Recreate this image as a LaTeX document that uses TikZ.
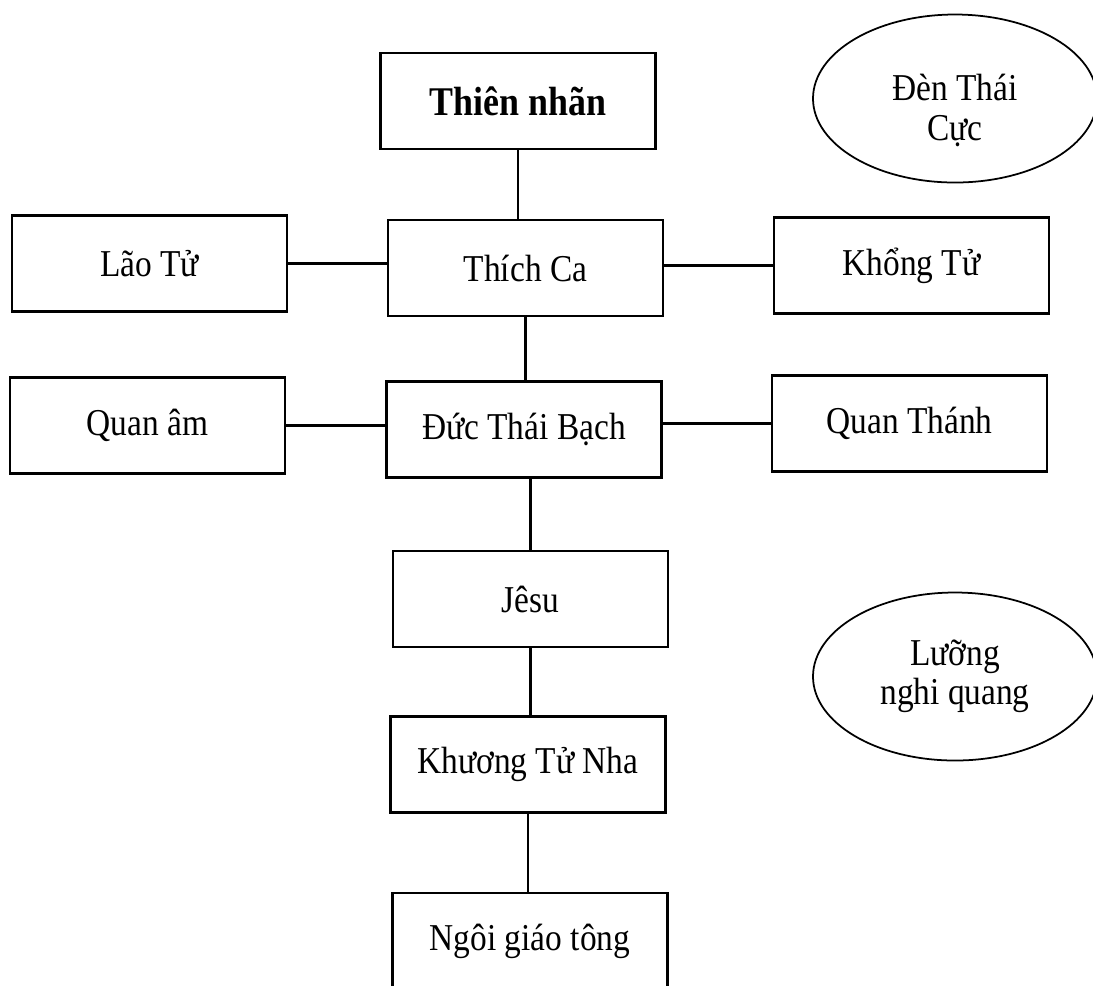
\documentclass[tikz,border=0pt]{standalone}
\usepackage{fontspec}
\setmainfont{Liberation Serif}[FakeStretch=0.88]
\usetikzlibrary{shapes.geometric}
\tikzset{
  hop/.style={draw,line width=0.6pt,inner sep=0pt,minimum width=27.5mm,minimum height=9.6mm,
    font=\fontsize{10.8}{11.2}\selectfont},
  vong/.style={draw,ellipse,line width=0.5pt,inner sep=0pt,minimum width=28.4mm,minimum height=16.8mm,
    align=center,font=\fontsize{10.8}{11.2}\selectfont},
  noi/.style={line width=0.6pt}
}

\begin{document}
\begin{tikzpicture}[x=0.1mm,y=-0.1mm]
\useasboundingbox (0,0) rectangle (1093,985);
% hop
\node[hop,font=\fontsize{11.6}{12.5}\selectfont\bfseries] (thien) at (518,101) {Thiên nhãn};
\node[hop] (lao) at (149.5,263.5) {Lão Tử};
\node[hop] (thich) at (525.5,268) {Thích Ca};
\node[hop] (khong) at (911.5,265.5) {Khổng Tử};
\node[hop] (quanam) at (147.5,425.5) {Quan âm};
\node[hop] (duc) at (524,429.5) {Đức Thái Bạch};
\node[hop] (quanthanh) at (909.5,423.5) {Quan Thánh};
\node[hop] (jesu) at (530.5,599) {Jêsu};
\node[hop] (khuong) at (528,764.5) {Khương Tử Nha};
\node[hop] (ngoi) at (530,941) {Ngôi giáo tông};
% vong
\node[vong] (den) at (955,98.5) {\rule{0pt}{5mm}Đèn Thái\\Cực};
\node[vong] (luong) at (955,676.5) {Lưỡng\\nghi quang};
% noi
\draw[noi] (thien.south) -- (thien.south |- thich.north);
\draw[noi] (lao.east) -- (lao.east -| thich.west);
\draw[noi] (thich.east |- khong.west) -- (khong.west);
\draw[noi] (thich.south) -- (thich.south |- duc.north);
\draw[noi] (quanam.east) -- (quanam.east -| duc.west);
\draw[noi] (duc.east |- quanthanh.west) -- (quanthanh.west);
\draw[noi] (duc.south -| jesu.north) -- (jesu.north);
\draw[noi] (jesu.south) -- (jesu.south |- khuong.north);
\draw[noi] (khuong.south) -- (khuong.south |- ngoi.north);
\end{tikzpicture}
\end{document}
